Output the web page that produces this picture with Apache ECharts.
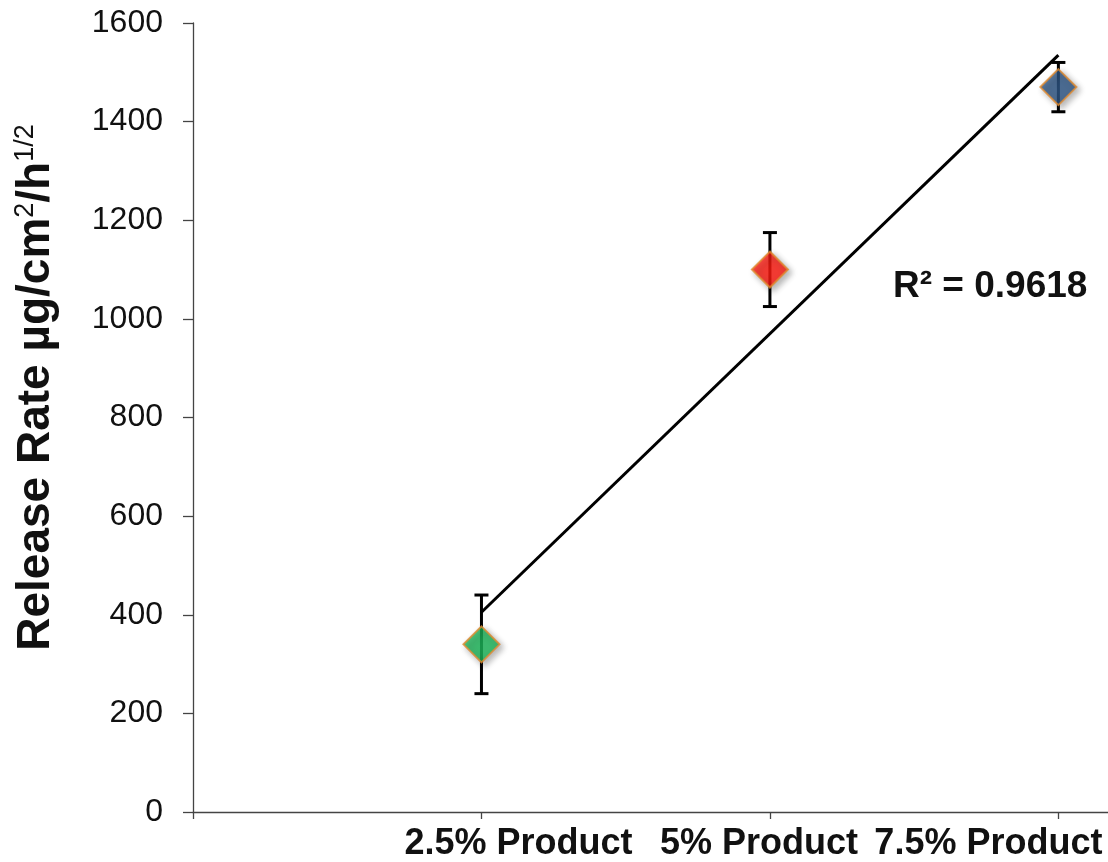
<!DOCTYPE html>
<html>
<head>
<meta charset="utf-8">
<script src="https://cdn.jsdelivr.net/npm/echarts@6/dist/echarts.min.js"></script>
<style>
html,body{margin:0;padding:0;background:#fff;}
#chart{width:1108px;height:862px;}
</style>
</head>
<body>
<div id="chart"></div>
<script>
// ---- data ----
var categories = ['2.5% Product', '5% Product', '7.5% Product'];
var xPositions = [1, 2, 3];
var releaseRate = [340, 1100, 1470];
var errorAmount = [100, 75, 50];
var pointColors = ['#1db85a', '#ff1a10', '#2e5686'];
var yTicks = [0, 200, 400, 600, 800, 1000, 1200, 1400, 1600];
var r2Label = 'R² = 0.9618';

// linear trendline fitted from the data
function fit(xs, ys) {
  var n = xs.length, mx = 0, my = 0;
  for (var i = 0; i < n; i++) { mx += xs[i]; my += ys[i]; }
  mx /= n; my /= n;
  var sxy = 0, sxx = 0;
  for (var j = 0; j < n; j++) { sxy += (xs[j]-mx)*(ys[j]-my); sxx += (xs[j]-mx)*(xs[j]-mx); }
  var b = sxy / sxx; var a = my - b * mx;
  return function (x) { return a + b * x; };
}
var f = fit(xPositions, releaseRate);
var trend = [[xPositions[0], f(xPositions[0])], [xPositions[xPositions.length-1], f(xPositions[xPositions.length-1])]];

var pointData = xPositions.map(function (x, i) {
  return { value: [x, releaseRate[i]], itemStyle: { color: pointColors[i] } };
});
var errData = xPositions.map(function (x, i) {
  return [x, releaseRate[i] - errorAmount[i], releaseRate[i] + errorAmount[i]];
});

var labelShift = { 1: [0, 0, 0, 74], 2: [0, 22, 0, 0], 3: [0, 140, 0, 0] };
var rich = {};
xPositions.forEach(function (x) {
  rich['c' + x] = {
    fontFamily: 'Liberation Sans, Arial, sans-serif',
    fontWeight: 'bold', fontSize: 36, color: '#111',
    padding: labelShift[x]
  };
});

var chart = echarts.init(document.getElementById('chart'));
chart.setOption({
  animation: false,
  backgroundColor: '#fff',
  grid: { left: 193, top: 23, right: 0, bottom: 45, containLabel: false },
  xAxis: {
    type: 'value', min: 0, max: 3.172, interval: 1,
    axisLine: { show: true, onZero: false, lineStyle: { color: '#444', width: 1.3 } },
    axisTick: { show: true, length: 7, customValues: [0].concat(xPositions), lineStyle: { color: '#444', width: 1.3 } },
    splitLine: { show: false },
    axisLabel: {
      margin: 14,
      customValues: xPositions,
      formatter: function (v) {
        var i = xPositions.indexOf(v);
        return i >= 0 ? '{c' + v + '|' + categories[i] + '}' : '';
      },
      rich: rich
    }
  },
  yAxis: {
    type: 'value', min: yTicks[0], max: yTicks[yTicks.length-1], interval: 200,
    axisLine: { show: true, lineStyle: { color: '#444', width: 1.3 } },
    axisTick: { show: true, length: 10, lineStyle: { color: '#444', width: 1.3 } },
    splitLine: { show: false },
    axisLabel: {
      margin: 30, fontSize: 32, color: '#111',
      fontFamily: 'Liberation Sans, Arial, sans-serif',
      formatter: function (v) { return String(v); }
    },
    name: '{t|Release Rate µg/cm}{s|2}{t|/h}{s|1/2}',
    nameLocation: 'middle',
    nameGap: 132,
    nameTextStyle: {
      padding: [0, 0, 0, 60],
      rich: {
        t: { fontFamily: 'Liberation Sans, Arial, sans-serif', fontWeight: 'bold', fontSize: 46, color: '#111' },
        s: { fontFamily: 'Liberation Sans, Arial, sans-serif', fontSize: 27, color: '#111', padding: [0, 0, 22, 0] }
      }
    }
  },
  graphic: [{
    type: 'text', left: 893, top: 268,
    style: { text: r2Label, fontFamily: 'Liberation Sans, Arial, sans-serif', fontWeight: 'bold', fontSize: 37, fill: '#111' }
  }],
  series: [
    {
      type: 'line', data: trend, symbol: 'none', silent: true,
      lineStyle: { color: '#000', width: 3 }, z: 2
    },
    {
      type: 'custom', data: errData, z: 3,
      renderItem: function (params, api) {
        var x = api.value(0);
        var lo = api.coord([x, api.value(1)]);
        var hi = api.coord([x, api.value(2)]);
        var w = 7;
        var st = { stroke: '#000', lineWidth: 3 };
        return { type: 'group', children: [
          { type: 'line', shape: { x1: lo[0], y1: lo[1], x2: hi[0], y2: hi[1] }, style: st },
          { type: 'line', shape: { x1: lo[0]-w, y1: lo[1], x2: lo[0]+w, y2: lo[1] }, style: st },
          { type: 'line', shape: { x1: hi[0]-w, y1: hi[1], x2: hi[0]+w, y2: hi[1] }, style: st }
        ]};
      }
    },
    {
      type: 'scatter', data: pointData, symbol: 'diamond', symbolSize: [36, 36], z: 4,
      itemStyle: {
        borderColor: '#e08a2e', borderWidth: 2,
        shadowBlur: 6, shadowColor: 'rgba(0,0,0,0.35)', shadowOffsetX: 3, shadowOffsetY: 3
      }
    }
  ]
});
</script>
</body>
</html>
